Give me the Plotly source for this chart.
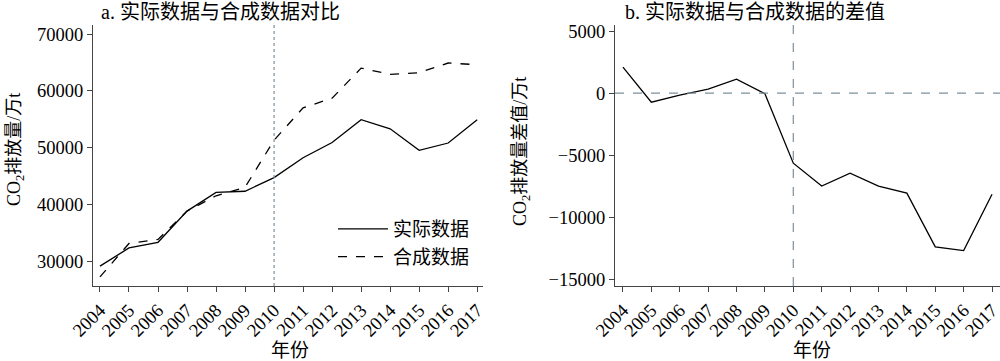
import plotly.graph_objects as go

years = list(range(2004, 2018))
year_labels = [str(y) for y in years]
actual = [29100, 32300, 33300, 38800, 42100, 42300, 44700, 48200, 50900, 54900, 53300, 49500, 50800, 54900]
synthetic = [27200, 33100, 33800, 38800, 41500, 43000, 51300, 57000, 58700, 64000, 62900, 63200, 64900, 64600]
difference = [2100, -730, -150, 320, 1130, -50, -5650, -7500, -6450, -7500, -8070, -12400, -12700, -8150]
left_yticks = [30000, 40000, 50000, 60000, 70000]
left_ylabels = ["30000", "40000", "50000", "60000", "70000"]
right_yticks = [-15000, -10000, -5000, 0, 5000]
right_ylabels = ["\u221215000", "\u221210000", "\u22125000", "0", "5000"]
treat_year = 2010

FONT = "Liberation Serif, Noto Sans CJK SC"
REF = "#7d909c"
H = 361.0

fig = go.Figure()
fig.add_trace(go.Scatter(x=years, y=actual, mode="lines", name="实际数据",
                         line=dict(color="black", width=1.3), xaxis="x", yaxis="y"))
fig.add_trace(go.Scatter(x=years, y=synthetic, mode="lines", name="合成数据",
                         line=dict(color="black", width=1.3, dash="dash"), xaxis="x", yaxis="y"))
fig.add_trace(go.Scatter(x=years, y=difference, mode="lines", name="差值", showlegend=False,
                         line=dict(color="black", width=1.3), xaxis="x2", yaxis="y2"))

def ax(**kw):
    d = dict(showline=True, linecolor="#444", linewidth=1.3, ticks="outside",
             ticklen=5, tickcolor="#444", showgrid=False, zeroline=False, automargin=False,
             ticklabeloverflow="allow",
             tickfont=dict(family=FONT, size=18.5, color="black"))
    d.update(kw)
    return d

ydom = [1 - 286 / H, 1 - 25 / H]
fig.update_layout(
    width=1000, height=361,
    margin=dict(l=0, r=0, t=0, b=0),
    plot_bgcolor="white", paper_bgcolor="white",
    font=dict(family=FONT, color="black"),
    xaxis=ax(domain=[0.093, 0.483], range=[2003.76, 2017.2], tickvals=years,
             ticktext=year_labels, tickangle=-45, anchor="y"),
    yaxis=ax(domain=ydom, range=[25600, 71600], tickvals=left_yticks, ticktext=left_ylabels,
             anchor="x"),
    xaxis2=ax(domain=[0.615, 1.0], range=[2003.72, 2017.28], tickvals=years,
              ticktext=year_labels, tickangle=-45, anchor="y2"),
    yaxis2=ax(domain=ydom, range=[-15560, 5500], tickvals=right_yticks,
              ticktext=right_ylabels, anchor="x2"),
    legend=dict(x=0.333, y=1 - 210 / H, xanchor="left", yanchor="top", bgcolor="rgba(0,0,0,0)",
                font=dict(family=FONT, size=19), tracegroupgap=0, itemwidth=50),
    showlegend=True,
)

fig.add_shape(type="line", xref="x", yref="paper", x0=treat_year, x1=treat_year, y0=ydom[0], y1=ydom[1],
              line=dict(color=REF, width=1.2, dash="dot"))
fig.add_shape(type="line", xref="x2", yref="paper", x0=treat_year, x1=treat_year, y0=ydom[0], y1=ydom[1],
              line=dict(color=REF, width=1.2, dash="dash"))
fig.add_shape(type="line", xref="paper", yref="y2", x0=0.615, x1=1.0, y0=0, y1=0,
              line=dict(color=REF, width=1.2, dash="dash"))

def note(text, x, y, angle=0, size=19):
    fig.add_annotation(text=text, xref="paper", yref="paper", x=x / 1000, y=1 - y / H,
                       showarrow=False, font=dict(family=FONT, size=size, color="black"),
                       xanchor="center", yanchor="middle", textangle=angle)

note("a. 实际数据与合成数据对比", 220, 12, size=20)
note("b. 实际数据与合成数据的差值", 755, 12, size=20)
note("年份", 290, 350)
note("年份", 812, 350)
note("CO<sub>2</sub>排放量/万t", 15, 150, angle=-90, size=18)
note("CO<sub>2</sub>排放量差值/万t", 521, 152, angle=-90, size=18)

fig.write_html("out.html", config={"displayModeBar": False},
               post_script="document.body.style.margin='0';document.body.style.overflow='hidden';")
